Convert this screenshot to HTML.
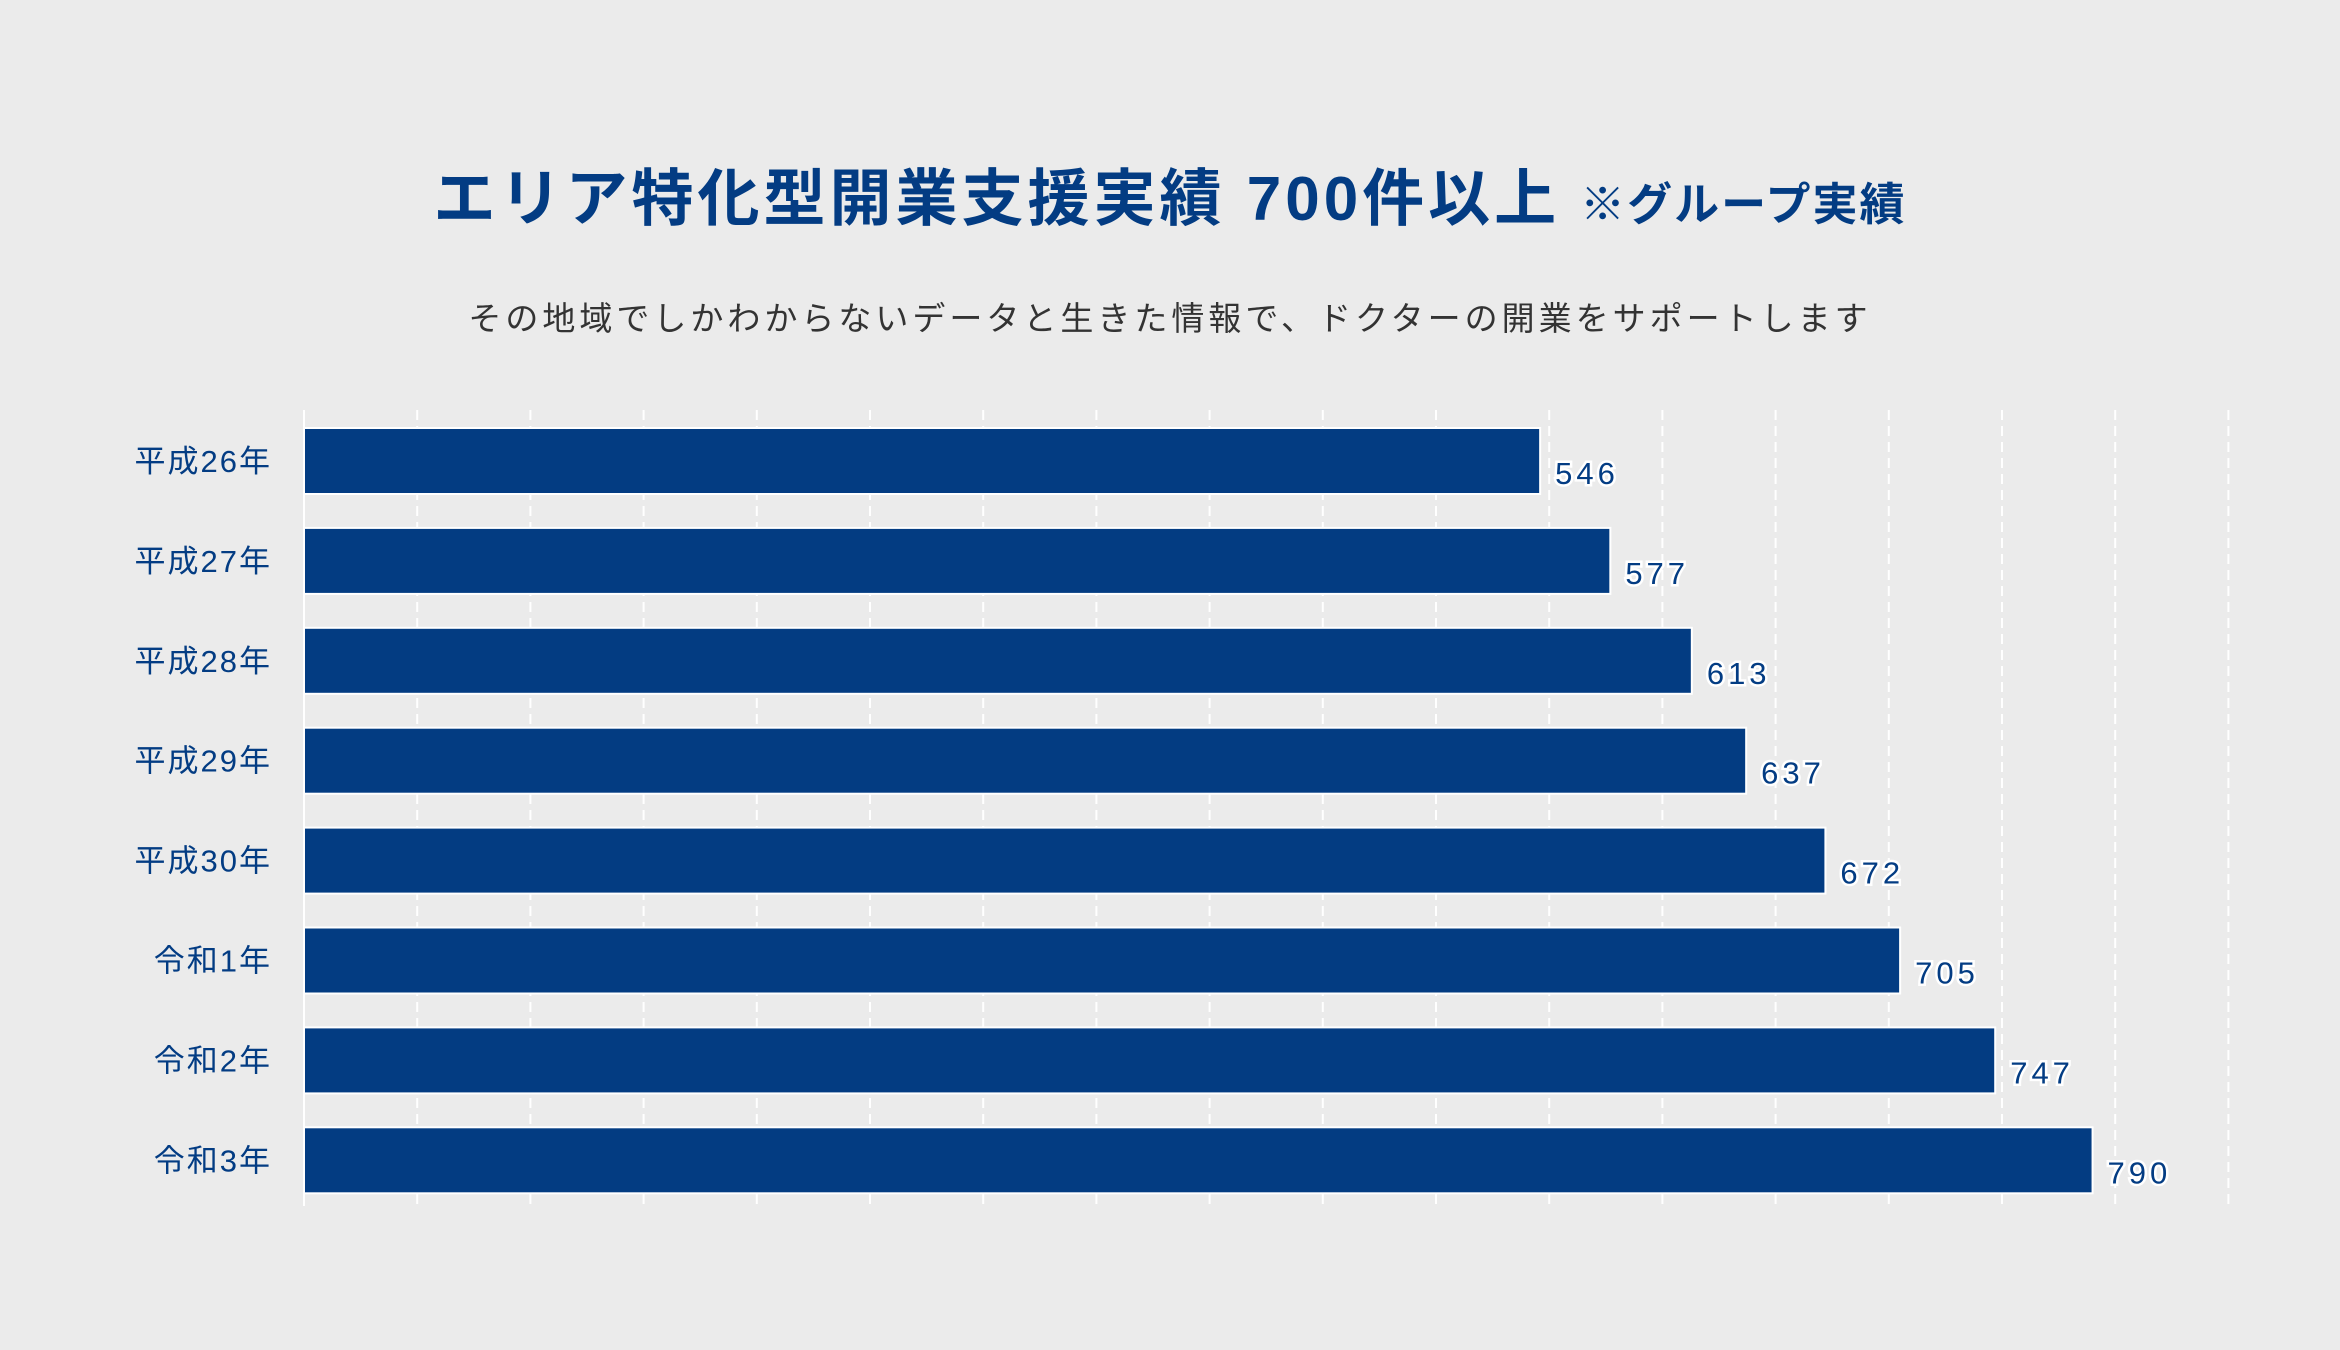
<!DOCTYPE html>
<html><head><meta charset="utf-8"><style>
body{margin:0;width:2340px;height:1350px;background:#ebebeb;overflow:hidden;font-family:"Liberation Sans","Noto Sans CJK JP",sans-serif}
#title{position:absolute;left:0;width:2340px;top:160px;text-align:center;color:#033c83;font-weight:bold;font-size:62px;letter-spacing:4px;line-height:80px}
#title small{font-size:45px;letter-spacing:2px;margin-left:20px}
#sub{position:absolute;left:0;width:2340px;top:292px;text-align:center;color:#333;font-size:33px;letter-spacing:4px}
svg{position:absolute;left:0;top:0}
</style></head><body>
<div id="title">エリア特化型開業支援実績 700件以上<small>※グループ実績</small></div>
<div id="sub">その地域でしかわからないデータと生きた情報で、ドクターの開業をサポートします</div>
<svg id="chart" width="2340" height="1350"></svg>
<script>
const categories=["平成26年","平成27年","平成28年","平成29年","平成30年","令和1年","令和2年","令和3年"];
const values=[546,577,613,637,672,705,747,790];
const gridMax=850, gridStep=50;
const NS="http://www.w3.org/2000/svg";
const svg=document.getElementById('chart');
const x0=304, pxPer=113.2/50, yTop=428, pitch=99.9, barH=66;
const xs=v=>x0+v*pxPer;
const ys=i=>yTop+i*pitch;
function mk(t,a){const e=document.createElementNS(NS,t);for(const k in a)e.setAttribute(k,a[k]);svg.appendChild(e);return e;}
for(let v=gridStep;v<=gridMax;v+=gridStep){
 const l=mk('line',{x1:xs(v),x2:xs(v),y1:410,y2:1206,stroke:'#fff','stroke-width':2,'stroke-dasharray':'10 6'});
 
 
}
const ax=mk('line',{x1:x0,x2:x0,y1:410,y2:1206,stroke:'#fff','stroke-width':2});


categories.forEach((c,i)=>{
 const y=ys(i);
 const r=mk('rect',{x:x0,y:y,width:xs(values[i])-x0,height:barH,fill:'#033c82',stroke:'#fff','stroke-width':2});
 
 
 const t=mk('text',{x:272,y:y+barH/2+11,'text-anchor':'end','font-size':31,fill:'#033c83','letter-spacing':2});
 t.textContent=c;
 
 
 const vl=mk('text',{x:xs(values[i])+15,y:y+barH/2+23,'font-size':31,fill:'#033c83','letter-spacing':4,stroke:'#fff','stroke-width':5,'paint-order':'stroke'});
 vl.textContent=values[i];
 
 
});
</script>
</body></html>
